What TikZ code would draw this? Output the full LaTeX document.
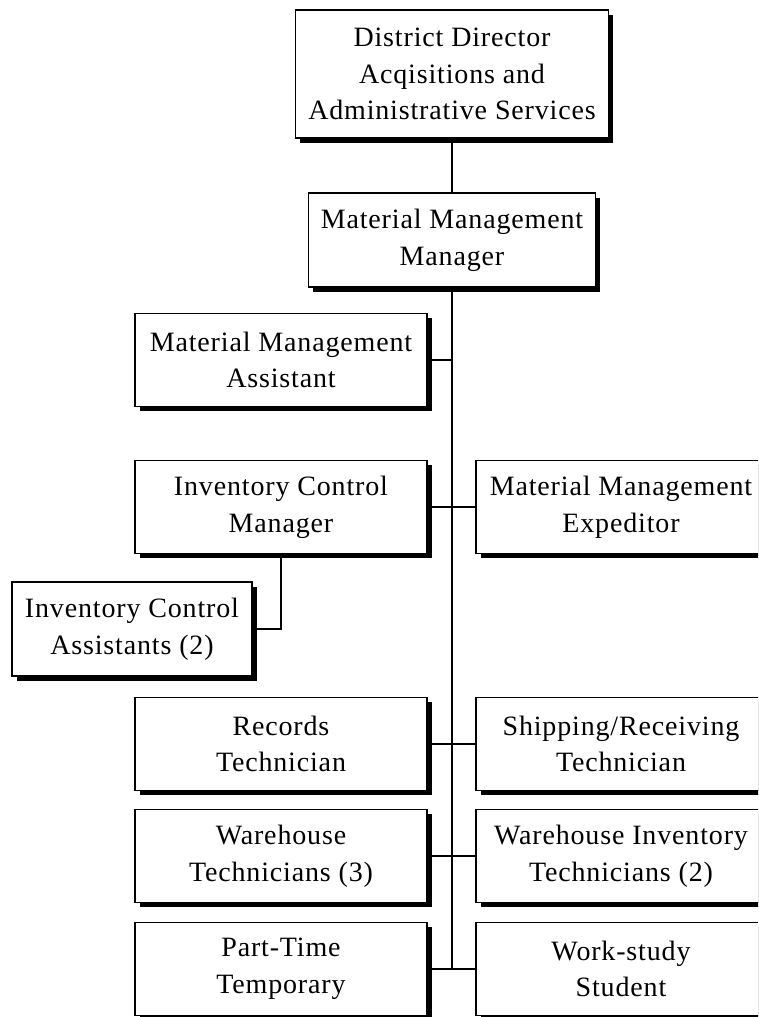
\documentclass[tikz,border=0pt]{standalone}
\usepackage{fontspec}
\setmainfont{Liberation Serif}[LetterSpace=3]
\usetikzlibrary{shadows}
\begin{document}
\begin{tikzpicture}[x=1pt,y=-1pt,
  box/.style={draw=black, fill=white, line width=1.3pt, align=center, inner sep=0pt,
    minimum width=292pt, minimum height=93pt,
    font=\fontsize{28}{36.7}\selectfont,
    drop shadow={shadow xshift=4.5pt, shadow yshift=-4.5pt, fill=black, opacity=1}},
  rbox/.style={box, minimum width=310pt},
  link/.style={draw=black, line width=1.3pt}]
\useasboundingbox (0,0) rectangle (758,1017);
\fill[white] (0,0) rectangle (758,1017);
\clip (0,0) rectangle (758,1017);
\node[box, minimum width=313pt, minimum height=128pt] (dd) at (452,74)
  {District Director\\Acqisitions and\\Administrative Services};
\node[box, minimum width=287pt, minimum height=94pt] (mmm) at (452,240)
  {Material Management\\Manager};
\node[box] (mma) at (281,360) {Material Management\\Assistant};
\node[box] (icm) at (281,507) {Inventory Control\\Manager};
\node[rbox] (exp) at (631,507) {\hspace*{-20pt}Material Management\\\hspace*{-20pt}Expeditor};
\node[box, minimum width=240pt, minimum height=94pt] (ica) at (132,629) {Inventory Control\\Assistants (2)};
\node[box] (rec) at (281,744) {Records\\Technician};
\node[rbox] (shp) at (631,744) {\hspace*{-20pt}Shipping/Receiving\\\hspace*{-20pt}Technician};
\node[box] (wt) at (281,856) {Warehouse\\Technicians (3)};
\node[rbox] (wit) at (631,856) {\hspace*{-20pt}Warehouse Inventory\\\hspace*{-20pt}Technicians (2)};
\node[box] (pt) at (281,969) {Part-Time\\Temporary};
\node[rbox] (ws) at (631,969) {\hspace*{-20pt}Work-study\\\hspace*{-20pt}Student};
\coordinate (tbot) at (mmm.south |- pt.east);
\draw[link] (dd.south) -- (mmm.north);
\draw[link] (mmm.south) -- (tbot);
\draw[link] (mma.east) -- (mma.east -| mmm.south);
\draw[link] (icm.east) -- (exp.west);
\draw[link] (icm.south) |- (ica.east);
\draw[link] (rec.east) -- (shp.west);
\draw[link] (wt.east) -- (wit.west);
\draw[link] (pt.east) -- (ws.west);
\end{tikzpicture}
\end{document}
